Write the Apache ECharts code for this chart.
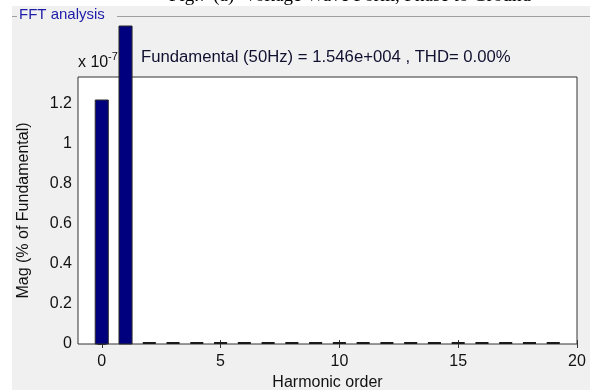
<!DOCTYPE html>
<html><head><meta charset="utf-8">
<script src="https://cdn.jsdelivr.net/npm/echarts@6/dist/echarts.min.js"></script>
<style>html,body{margin:0;padding:0;background:#fff}#c{width:590px;height:390px}</style>
</head><body><div id="c"></div>
<script>
const harmonics = [0,1,2,3,4,5,6,7,8,9,10,11,12,13,14,15,16,17,18,19];
const magnitudes = [1.22,1.59,0,0,0,0,0,0,0,0,0,0,0,0,0,0,0,0,0,0];
const xTicks = [0,5,10,15,20];
const yTicks = [0,0.2,0.4,0.6,0.8,1,1.2];
const font = '"Liberation Sans", Arial, sans-serif';

const chart = echarts.init(document.getElementById('c'), null, {renderer:'canvas'});
const BAR_W = 0.55;
chart.setOption({
  animation:false,
  backgroundColor:'#ffffff',
  graphic:[
    {type:'rect', shape:{x:12,y:6,width:578,height:384}, style:{fill:'#f0f0f0'}, z:-10},
    {type:'text', x:350, y:-13, style:{text:'Fig.7 (a)  Voltage Wave Form, Phase to Ground', font:'19px "Liberation Serif", "Times New Roman", serif', fill:'#000', align:'center'}},
    {type:'line', shape:{x1:12,y1:16.5,x2:17,y2:16.5}, style:{stroke:'#a0a0a0',lineWidth:1}},
    {type:'line', shape:{x1:117,y1:16.5,x2:590,y2:16.5}, style:{stroke:'#a0a0a0',lineWidth:1}},
    {type:'text', x:19, y:7, style:{text:'FFT analysis', font:'15px '+font, fill:'#1c1ca8'}},
    {type:'text', x:141, y:49, style:{text:'Fundamental (50Hz) = 1.546e+004 , THD= 0.00%', font:'16.7px '+font, fill:'#101030'}},
    {type:'text', x:78, y:55, style:{text:'x 10', font:'16px '+font, fill:'#101010'}},
    {type:'text', x:108, y:51, style:{text:'-7', font:'11px '+font, fill:'#101010'}}
  ],
  grid:{left:78, right:13, top:77, bottom:46, containLabel:false, outerBoundsMode:'none', show:true, backgroundColor:'#ffffff', borderColor:'#333', borderWidth:1},
  xAxis:[{
    type:'value', min:-1, max:20,
    name:'Harmonic order', nameLocation:'middle', nameGap:31,
    nameTextStyle:{fontFamily:font, fontSize:16, color:'#111'},
    axisLine:{show:false},
    splitLine:{show:false},
    axisTick:{show:true, inside:true, length:4, lineStyle:{color:'#333'}, customValues:xTicks},
    axisLabel:{fontFamily:font, fontSize:16, color:'#111', margin:10, customValues:xTicks}
  },{
    type:'value', min:-1, max:20, position:'top',
    axisLine:{show:false}, splitLine:{show:false},
    axisTick:{show:true, inside:true, length:4, lineStyle:{color:'#333'}, customValues:xTicks},
    axisLabel:{show:false, customValues:xTicks}
  }],
  yAxis:[{
    type:'value', min:0, max:1.335, interval:0.2,
    name:'Mag (% of Fundamental)', nameLocation:'middle', nameGap:46,
    nameTextStyle:{fontFamily:font, fontSize:16, color:'#111'},
    axisLine:{show:false}, splitLine:{show:false},
    axisTick:{show:true, inside:true, length:4, lineStyle:{color:'#333'}, customValues:yTicks},
    axisLabel:{fontFamily:font, fontSize:16, color:'#111', margin:6, customValues:yTicks}
  },{
    type:'value', min:0, max:1.335, position:'right',
    axisLine:{show:false}, splitLine:{show:false},
    axisTick:{show:true, inside:true, length:4, lineStyle:{color:'#333'}, customValues:yTicks},
    axisLabel:{show:false, customValues:yTicks}
  }],
  series:[{
    type:'custom',
    clip:false,
    data: harmonics.map((h,i)=>[h, magnitudes[i]]),
    encode:{x:0, y:1},
    renderItem:function(params, api){
      const x = api.value(0), v = api.value(1);
      const p0 = api.coord([x - BAR_W/2, 0]);
      const p1 = api.coord([x + BAR_W/2, v]);
      const w = p1[0]-p0[0];
      if (v === 0) {
        return {type:'rect', shape:{x:p0[0], y:p0[1]-2, width:w, height:2}, style:{fill:'#1a1a1a'}};
      }
      return {type:'rect', shape:{x:p0[0], y:p1[1], width:w, height:p0[1]-p1[1]}, style:{fill:'#00007f', stroke:'#2a2a2a', lineWidth:1}};
    },
    z:5
  }]
});
</script></body></html>
